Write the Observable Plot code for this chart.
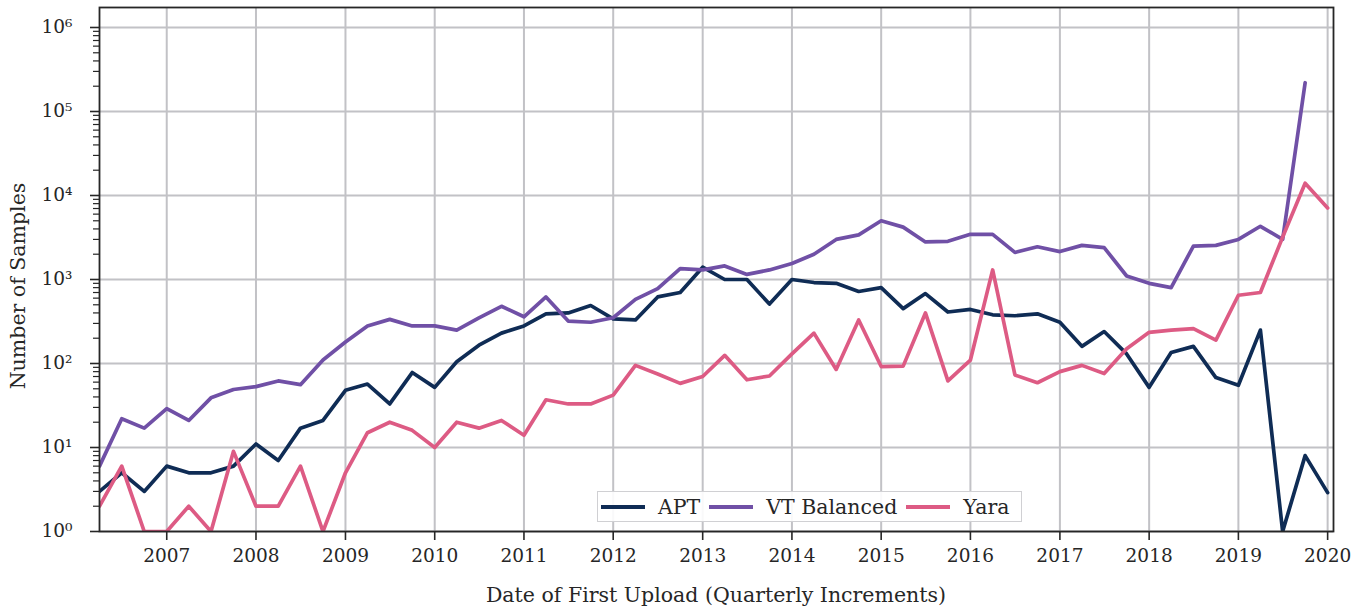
<!DOCTYPE html>
<html>
<head>
<meta charset="utf-8">
<script src="https://cdn.jsdelivr.net/npm/d3@7"></script>
<script src="https://cdn.jsdelivr.net/npm/@observablehq/plot@0.6"></script>
<style>
  html, body { margin: 0; padding: 0; background: #ffffff; }
  #wrap { position: relative; width: 1364px; height: 609px; font-family: "DejaVu Serif", serif; color: #262626; }
  .legend { position: absolute; left: 597px; top: 491px; width: 425px; height: 31px; box-sizing: border-box;
            border: 1.5px solid #d0d0d3; background: rgba(255,255,255,0.9); display: flex; align-items: center;
            font-size: 20.5px; padding-left: 3px; white-space: nowrap; }
  .sw { display: inline-block; width: 44px; height: 4px; margin-right: 13px; }
  .lab { margin-right: 9px; }
</style>
</head>
<body>
<div id="wrap"></div>
<script>
// ---- Data ----
const quarters = [
  "2006-04","2006-07","2006-10",
  "2007-01","2007-04","2007-07","2007-10",
  "2008-01","2008-04","2008-07","2008-10",
  "2009-01","2009-04","2009-07","2009-10",
  "2010-01","2010-04","2010-07","2010-10",
  "2011-01","2011-04","2011-07","2011-10",
  "2012-01","2012-04","2012-07","2012-10",
  "2013-01","2013-04","2013-07","2013-10",
  "2014-01","2014-04","2014-07","2014-10",
  "2015-01","2015-04","2015-07","2015-10",
  "2016-01","2016-04","2016-07","2016-10",
  "2017-01","2017-04","2017-07","2017-10",
  "2018-01","2018-04","2018-07","2018-10",
  "2019-01","2019-04","2019-07","2019-10",
  "2020-01"
];
const apt = [3, 5, 3, 6, 5, 5, 6, 11, 7, 17, 21, 48, 57, 33, 78, 52, 105, 165, 230, 280,
  390, 400, 490, 340, 330, 620, 700, 1400, 1000, 1000, 510, 1000, 920, 900, 720, 800,
  450, 680, 410, 440, 380, 370, 390, 310, 160, 240, 130, 52, 135, 160, 68, 55, 250, 1, 8, 2.9];
const vtBalanced = [6, 22, 17, 29, 21, 39, 49, 53, 62, 56, 110, 180, 280, 335, 280, 280, 250,
  350, 480, 360, 620, 320, 310, 350, 580, 780, 1350, 1300, 1450, 1150, 1300, 1550, 2000, 3000,
  3400, 5000, 4200, 2800, 2850, 3450, 3450, 2100, 2450, 2150, 2550, 2400, 1100, 900, 800, 2500,
  2550, 3000, 4300, 3000, 220000];
const yara = [2, 6, 1, 1, 2, 1, 9, 2, 2, 6, 1, 5, 15, 20, 16, 10, 20, 17, 21, 14, 37, 33, 33,
  42, 95, 75, 58, 70, 125, 64, 71, 130, 230, 85, 330, 92, 93, 400, 62, 110, 1300, 73, 59, 80,
  95, 76, 150, 235, 250, 260, 190, 650, 700, 3200, 14000, 7100];
const seriesNames = ["APT", "VT Balanced", "Yara"];
const seriesColors = ["#0f2c55", "#7050a6", "#dd5b84"];
const yearTicks = ["2007","2008","2009","2010","2011","2012","2013","2014","2015","2016","2017","2018","2019","2020"];
const decadeTicks = [1, 10, 100, 1000, 10000, 100000, 1000000];
const supDigits = ["⁰","¹","²","³","⁴","⁵","⁶"];

// ---- Build table ----
const parseQ = d3.utcParse("%Y-%m");
const parseY = d3.utcParse("%Y");
const rows = [];
[apt, vtBalanced, yara].forEach((arr, k) => {
  arr.forEach((v, i) => rows.push({date: parseQ(quarters[i]), value: v, series: seriesNames[k]}));
});
const yearDates = yearTicks.map(parseY);
const yMax = 1.73e6;
const minorTicks = [];
for (const d of decadeTicks) for (let m = 2; m <= 9; m++) if (d * m <= yMax) minorTicks.push(d * m);

const ink = "#262626";
const gridColor = "#c2c2c6";

const chart = Plot.plot({
  width: 1364,
  height: 609,
  marginLeft: 99,
  marginRight: 31,
  marginTop: 7,
  marginBottom: 78,
  style: {fontFamily: "DejaVu Serif", fontSize: "18.5px", color: ink, background: "transparent", overflow: "visible"},
  x: {type: "utc", domain: [parseQ(quarters[0]), new Date(Date.UTC(2020, 0, 25))]},
  y: {type: "log", domain: [1, yMax]},
  color: {domain: seriesNames, range: seriesColors},
  marks: [
    Plot.gridX(yearDates, {stroke: gridColor, strokeWidth: 2, strokeOpacity: 1}),
    Plot.gridY(decadeTicks, {stroke: gridColor, strokeWidth: 2, strokeOpacity: 1}),
    Plot.line(rows, {x: "date", y: "value", z: "series", stroke: "series", strokeWidth: 3.7,
      strokeLinejoin: "round", clip: true}),
    Plot.frame({stroke: ink, strokeWidth: 1.8}),
    Plot.axisX(yearDates, {tickSize: 9, tickPadding: 8, tickFormat: "%Y", label: null,
      stroke: ink, strokeWidth: 1.6, fill: ink, fontSize: 18.5}),
    Plot.axisY(decadeTicks, {tickSize: 9, tickPadding: 18, label: null, stroke: ink, strokeWidth: 1.6,
      fill: ink, fontSize: 18.5, tickFormat: d => "10" + supDigits[Math.round(Math.log10(d))]}),
    Plot.axisY(minorTicks, {tickSize: 6, tickFormat: () => "", label: null, stroke: ink, strokeWidth: 1.2})
  ]
});

const wrap = document.getElementById("wrap");
wrap.appendChild(chart);

const svg = d3.select(chart);
svg.append("text")
  .attr("x", 716).attr("y", 602)
  .attr("text-anchor", "middle")
  .attr("font-size", 20.5).attr("fill", ink)
  .text("Date of First Upload (Quarterly Increments)");
svg.append("text")
  .attr("transform", "translate(25,286) rotate(-90)")
  .attr("text-anchor", "middle")
  .attr("font-size", 20.5).attr("fill", ink)
  .text("Number of Samples");

// ---- Legend ----
const legend = document.createElement("div");
legend.className = "legend";
seriesNames.forEach((name, i) => {
  const sw = document.createElement("span");
  sw.className = "sw";
  sw.style.background = seriesColors[i];
  const lab = document.createElement("span");
  lab.className = "lab";
  lab.textContent = name;
  legend.appendChild(sw);
  legend.appendChild(lab);
});
wrap.appendChild(legend);
</script>
</body>
</html>
